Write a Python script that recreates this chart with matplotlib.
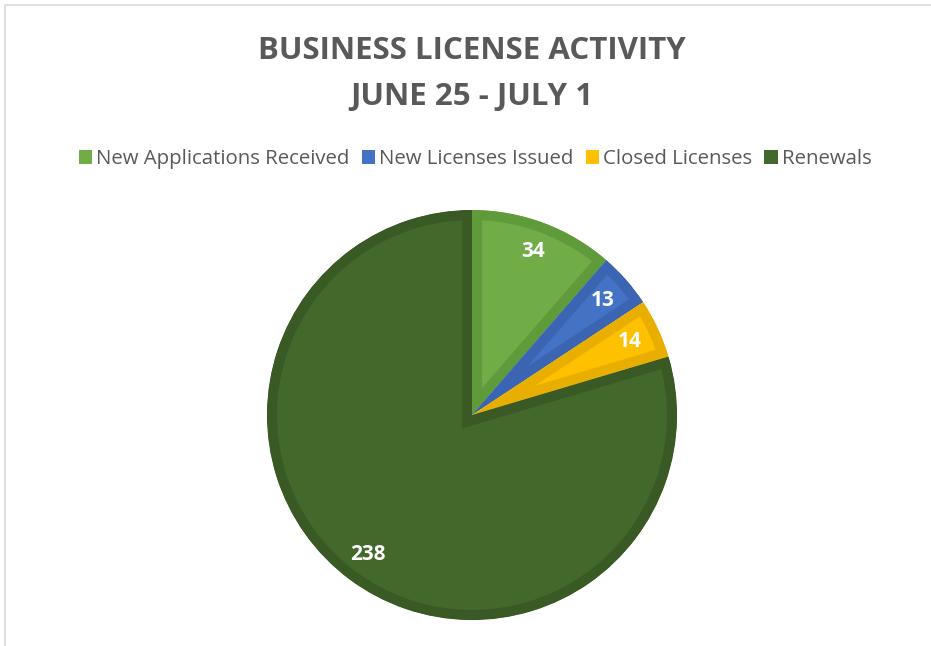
import matplotlib
matplotlib.use("Agg")
import matplotlib.pyplot as plt
from matplotlib.patches import Rectangle, Patch

categories = ["New Applications Received", "New Licenses Issued", "Closed Licenses", "Renewals"]
values = [34, 13, 14, 238]
fill_colors = ["#70AD47", "#4472C4", "#FFC000", "#43682B"]
edge_colors = ["#609B3B", "#3B65B2", "#E8AE00", "#3A5A25"]

title_lines = ["BUSINESS LICENSE ACTIVITY", "JUNE 25 - JULY 1"]

W, H = 931, 646
fig = plt.figure(figsize=(W / 100, H / 100), dpi=100)
fig.patch.set_facecolor("white")

# chart frame
fig.add_artist(Rectangle((5 / W, -0.1), 1.2, (H - 5) / H + 0.1, transform=fig.transFigure,
                         fill=False, edgecolor="#D9D9D9", linewidth=1.2))

font = "Open Sans"
fig.text(472 / W, 1 - 51 / H, title_lines[0], ha="center", va="center",
         fontsize=22.5, fontweight="bold", color="#595959", family=font)
fig.text(472 / W, 1 - 97 / H, title_lines[1], ha="center", va="center",
         fontsize=22.5, fontweight="bold", color="#595959", family=font)

# pie axes: center (472, 415), radius 205 px
r = 205
ax = fig.add_axes([(472 - r) / W, (H - 415 - r) / H, 2 * r / W, 2 * r / H])
wedges, texts, autotexts = ax.pie(
    values, colors=fill_colors, startangle=90, counterclock=False,
    autopct=lambda p: f"{round(p * sum(values) / 100):d}", pctdistance=0.85,
    wedgeprops=dict(linewidth=0),
    textprops=dict(color="white", fontsize=15, fontweight="bold", family=font))
ax.set_xlim(-1, 1)
ax.set_ylim(-1, 1)
ax.set_aspect("equal")
ax.axis("off")

# inner border on every slice: a doubled stroke clipped to the slice outline
for w, ec in zip(wedges, edge_colors):
    w.set_edgecolor(ec)
    w.set_linewidth(14.5)
    w.set_joinstyle("miter")
    w.set_clip_on(True)
    w.set_clip_path(w)

handles = [Patch(facecolor=c, edgecolor="none") for c in fill_colors]
fig.legend(handles, categories, loc="center", bbox_to_anchor=(475 / W, 1 - 159 / H),
           ncol=4, frameon=False, handlelength=0.65, handleheight=0.7,
           handletextpad=0.2, columnspacing=0.6,
           prop=dict(family=font, size=14.7), labelcolor="#595959")

fig.savefig("out.png", dpi=100, facecolor="white")
